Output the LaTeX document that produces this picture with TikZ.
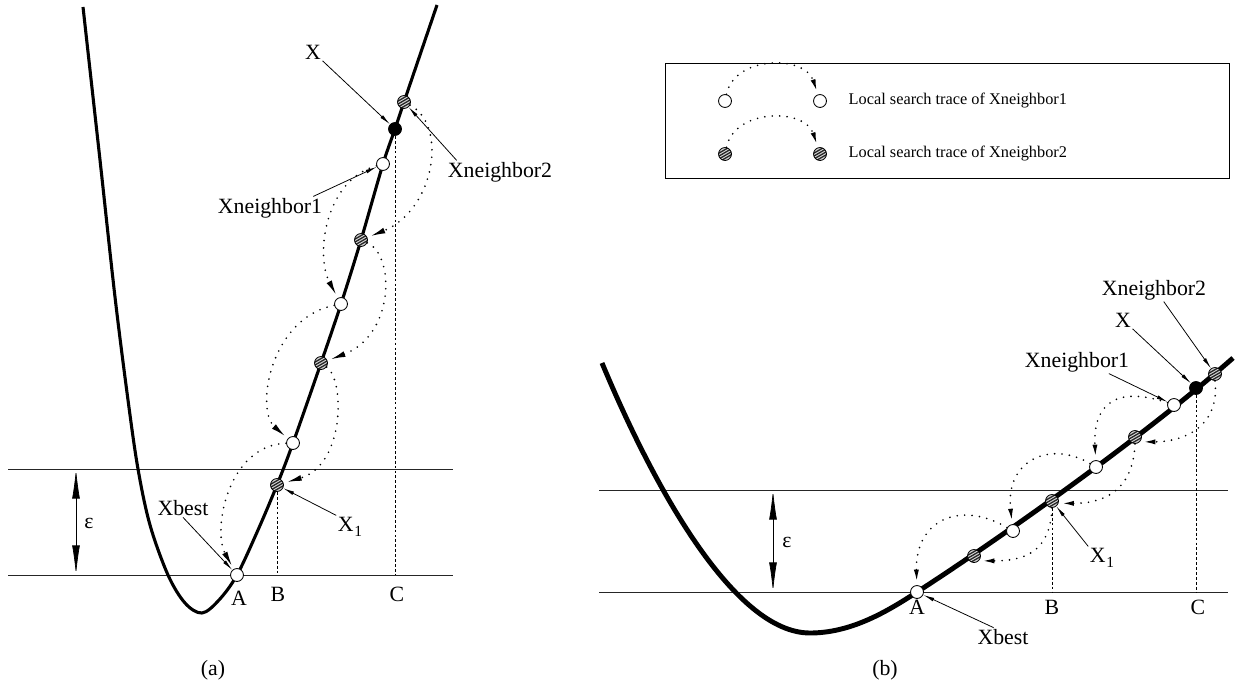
\documentclass[tikz,border=0pt]{standalone}
\usepackage{fontspec}
\setmainfont{Liberation Serif}
\usetikzlibrary{arrows.meta}
\tikzset{
  wball/.style={circle, draw, line width=0.6pt, fill=white, minimum size=9.2pt, inner sep=0pt},
  bball/.style={wball, fill=black},
  sball/.style={wball, fill=gray!30, path picture={
      \foreach \k in {-2.7,-0.9,0.9,2.7}
        \draw[black!85, line width=0.95pt] ([shift={(120:\k pt)}]path picture bounding box.center) +(30:-6pt) -- +(30:6pt);}},
  trace/.style={line width=1.3pt, dash pattern=on 0pt off 5.3pt, line cap=round, -{Latex[length=11pt,width=4.2pt]}, shorten >=2pt},
  btrace/.style={trace, -{Latex[length=9pt,width=3.6pt]}},
  lbl/.style={font=\fontsize{15.5}{18}\selectfont, inner sep=1pt},
  key/.style={font=\fontsize{11.6}{13}\selectfont, inner sep=1pt, anchor=west},
  lblarrow/.style={line width=0.55pt, -{Latex[length=8pt,width=2.6pt]}},
  level/.style={line width=0.7pt, black!85},
  drop/.style={line width=0.5pt, dash pattern=on 2pt off 1.5pt},
  gap/.style={line width=0.5pt, {Latex[length=21pt,width=5.5pt]}-{Latex[length=21pt,width=5.5pt]}},
}
\newcommand{\subone}{\kern0.5pt\raisebox{-4pt}{\fontsize{11}{12}\selectfont 1}}

\begin{document}
\begin{tikzpicture}[x=0.025cm, y=-0.025cm]
  \useasboundingbox (0,0) rectangle (1235,690);
  % ================================================================
  % (a) steep curve
  % ================================================================
  \begin{scope}
    % levels ---------------------------------------------------------
    \coordinate (a-hi-w) at (8,469);  \coordinate (a-hi-e) at (453,469);
    \coordinate (a-lo-w) at (8,575);  \coordinate (a-lo-e) at (453,575);
    \draw[level] (a-hi-w) -- (a-hi-e);
    \draw[level] (a-lo-w) -- (a-lo-e);
    \coordinate (a-eps-t) at (76,469); \coordinate (a-eps-b) at (76,575);
    \draw[gap] (a-eps-t) -- (a-eps-b);
    \node[lbl] (a-eps) at (89,523) {ε};
    % curve ----------------------------------------------------------
    \draw[line width=2.2pt, line join=round] plot[smooth, tension=0.55] coordinates {
      (83,7) (100,160) (115,297) (128,400) (138,469) (150,525) (168,575) (185,603)
      (202,613) (219,600) (237,575) (258,530) (277,485) (293,443) (321,363)
      (341,304) (361,240) (383,164) (395,129) (404,102) (437,5)};
    % points ---------------------------------------------------------
    \node[sball] (a-s0) at (404,102) {};
    \node[bball] (a-x) at (395,129) {};
    \node[wball] (a-w0) at (383,164) {};
    \node[sball] (a-s1) at (361,240) {};
    \node[wball] (a-w1) at (341,304) {};
    \node[sball] (a-s2) at (321,363) {};
    \node[wball] (a-w2) at (293,443) {};
    \node[sball] (a-s3) at (277,485) {};
    \node[wball] (a-best) at (237,575) {};
    \draw[drop] (a-s3.south) -- (a-s3 |- a-lo-w);
    \draw[drop] (a-x.south) -- (a-x |- a-lo-w);
    % traces ---------------------------------------------------------
    \draw[trace] (a-w0) .. controls +(-58,16) and +(-26,-49) .. (a-w1);
    \draw[trace] (a-w1) .. controls +(-71,14) and +(-38,-33) .. (a-w2);
    \draw[trace] (a-w2) .. controls +(-65,2) and +(-25,-45) .. (a-best);
    \draw[trace] (a-s0) .. controls +(44,23) and +(74,-30) .. (a-s1);
    \draw[trace] (a-s1) .. controls +(34,15) and +(74,-28) .. (a-s2);
    \draw[trace] (a-s2) .. controls +(24,17) and +(68,-20) .. (a-s3);
    % labels ---------------------------------------------------------
    \node[lbl] (a-lx) at (313,52) {X};
    \node[lbl] (a-ln1) at (270,208) {Xneighbor1};
    \node[lbl] (a-ln2) at (500,172) {Xneighbor2};
    \node[lbl] (a-lx1) at (350,527) {X\subone};
    \node[lbl] (a-lbest) at (183,508) {Xbest};
    \draw[lblarrow] (a-lx.south east) -- (a-x);
    \draw[lblarrow] (a-ln1.15) -- (a-w0);
    \draw[lblarrow] (a-ln2.165) -- (a-s0);
    \draw[lblarrow] (a-lx1.north west) -- (a-s3);
    \draw[lblarrow] (a-lbest.south) -- (a-best);
    \node[lbl] (a-la) at (239,598) {A};
    \node[lbl] (a-lb) at (278,594) {B};
    \node[lbl] (a-lc) at (397,594) {C};
    \node[lbl] (a-cap) at (213,670) {(a)};
  \end{scope}
  % ================================================================
  % legend
  % ================================================================
  \draw[line width=0.6pt] (665,63) rectangle (1229,178);
  \node[wball] (k-w0) at (725,101) {};
  \node[wball] (k-w1) at (820,101) {};
  \node[sball] (k-s0) at (725,154) {};
  \node[sball] (k-s1) at (820,154) {};
  \draw[btrace] (k-w0) .. controls +(10,-46) and +(-15,-46) .. (k-w1);
  \draw[btrace] (k-s0) .. controls +(10,-46) and +(-15,-46) .. (k-s1);
  \node[key] (k-t0) at (847,101) {Local search trace of Xneighbor1};
  \node[key] (k-t1) at (847,154) {Local search trace of Xneighbor2};
  % ================================================================
  % (b) flat curve
  % ================================================================
  \begin{scope}
    % levels ---------------------------------------------------------
    \coordinate (b-hi-w) at (599,490); \coordinate (b-hi-e) at (1228,490);
    \coordinate (b-lo-w) at (599,592); \coordinate (b-lo-e) at (1228,592);
    \draw[level] (b-hi-w) -- (b-hi-e);
    \draw[level] (b-lo-w) -- (b-lo-e);
    \coordinate (b-eps-t) at (773,490); \coordinate (b-eps-b) at (773,592);
    \draw[gap] (b-eps-t) -- (b-eps-b);
    \node[lbl] (b-eps) at (787,542) {ε};
    % curve ----------------------------------------------------------
    \draw[line width=3.5pt, line join=round]
      (602,363) .. controls (655,490) and (735,633) .. (810,633)
      .. controls (850,633) and (885,613) .. (917,592)
      .. controls (990,545) and (1140,440) .. (1233,358);
    % points ---------------------------------------------------------
    \node[sball] (b-s0) at (1215,374) {};
    \node[bball] (b-x) at (1196,388) {};
    \node[wball] (b-w0) at (1174,405) {};
    \node[sball] (b-s1) at (1135,437) {};
    \node[wball] (b-w1) at (1096,467) {};
    \node[sball] (b-x1) at (1052,501) {};
    \node[wball] (b-w2) at (1013,531) {};
    \node[sball] (b-s3) at (974,556) {};
    \node[wball] (b-best) at (917,592) {};
    \draw[drop] (b-x1.south) -- (b-x1 |- b-lo-w);
    \draw[drop] (b-x.south) -- (b-x |- b-lo-w);
    % traces ---------------------------------------------------------
    \draw[btrace] (b-w0) .. controls +(-59,-20) and +(-3,-62) .. (b-w1);
    \draw[btrace] (b-w1) .. controls +(-46,-27) and +(-8,-71) .. (b-w2);
    \draw[btrace] (b-w2) .. controls +(-53,-31) and +(-2,-72) .. (b-best);
    \draw[btrace] (b-s0.south) .. controls +(5,45) and +(45,0) .. (b-s1.-45);
    \draw[btrace] (b-s1.south) .. controls +(-2,45) and +(48,0) .. (b-x1.-20);
    \draw[btrace] (b-x1.south) .. controls +(-2,45) and +(45,0) .. (b-s3.-45);
    % labels ---------------------------------------------------------
    \node[lbl] (b-lx) at (1123,320) {X};
    \node[lbl] (b-ln1) at (1077,362) {Xneighbor1};
    \node[lbl] (b-ln2) at (1154,290) {Xneighbor2};
    \node[lbl] (b-lx1) at (1102,558) {X\subone};
    \node[lbl] (b-lbest) at (1003,637) {Xbest};
    \draw[lblarrow] (b-lx.south east) -- (b-x);
    \draw[lblarrow] (b-ln1.-20) -- (b-w0);
    \draw[lblarrow] (b-ln2.-50) -- (b-s0);
    \draw[lblarrow] (b-lx1.north west) -- (b-x1);
    \draw[lblarrow] (b-lbest.135) -- (b-best);
    \node[lbl] (b-la) at (917,607) {A};
    \node[lbl] (b-lb) at (1052,607) {B};
    \node[lbl] (b-lc) at (1198,607) {C};
    \node[lbl] (b-cap) at (885,670) {(b)};
  \end{scope}
\end{tikzpicture}
\end{document}
